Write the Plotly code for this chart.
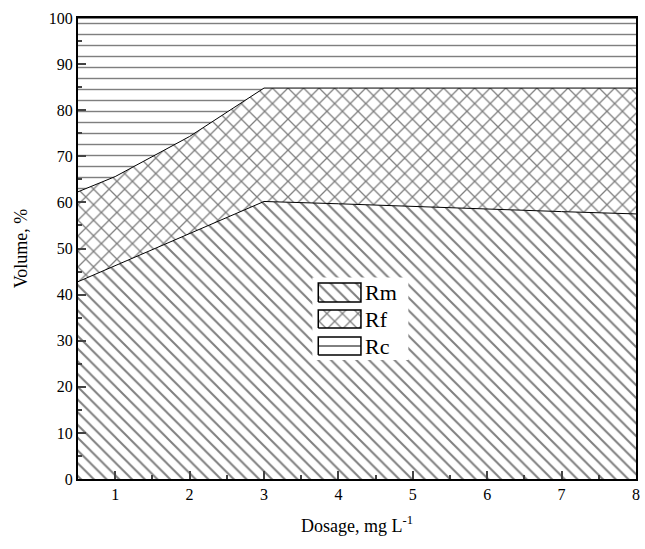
import plotly.graph_objects as go

dosage = [0.5, 1, 2, 3, 4, 5, 6, 7, 8]
rm = [42.8, 46.3, 53.2, 60.2, 59.7, 59.1, 58.6, 58.0, 57.5]
rf = [19.5, 19.3, 21.1, 24.6, 25.1, 25.7, 26.2, 26.8, 27.3]
rc = [37.7, 34.4, 25.7, 15.2, 15.2, 15.2, 15.2, 15.2, 15.2]

x_ticks = [1, 2, 3, 4, 5, 6, 7, 8]
y_ticks = [0, 10, 20, 30, 40, 50, 60, 70, 80, 90, 100]

names = ["Rm", "Rf", "Rc"]
series = [rm, rf, rc]
shapes = ["\\", "x", "-"]
sizes = [9, 11, 11]
solid = [0.22, 0.22, 0.13]

FONT = "Liberation Serif"

fig = go.Figure()
for n, s, sh, sz, so in zip(names, series, shapes, sizes, solid):
    fig.add_trace(go.Scatter(
        x=dosage, y=s, name=n, mode="lines", stackgroup="one",
        line=dict(color="black", width=1),
        fillcolor="white", showlegend=False,
        fillpattern=dict(shape=sh, size=sz, solidity=so, fgcolor="black",
                         bgcolor="white", fillmode="overlay"),
    ))

# ---- hand-made legend on overlay axes spanning 0..1 over the plot area ----
leg_x0, leg_x1 = 0.4306, 0.5071
leg_rows = [(0.4252, 0.3839), (0.3666, 0.3275), (0.3080, 0.2690)]
bg = (0.420, 0.592, 0.258, 0.437)

fig.add_trace(go.Scatter(
    x=[bg[0], bg[1], bg[1], bg[0], bg[0]], y=[bg[2], bg[2], bg[3], bg[3], bg[2]],
    fill="toself", fillcolor="white", line=dict(width=0), mode="lines",
    xaxis="x2", yaxis="y2", showlegend=False, hoverinfo="skip"))

for (top, bot), n, sh, sz, so in zip(leg_rows, names, shapes, sizes, solid):
    box_x = [leg_x0, leg_x1, leg_x1, leg_x0, leg_x0]
    box_y = [bot, bot, top, top, bot]
    if sh == "-":
        fig.add_trace(go.Scatter(
            x=box_x, y=box_y, fill="toself", fillcolor="white",
            line=dict(color="black", width=1.5), mode="lines",
            xaxis="x2", yaxis="y2", showlegend=False, hoverinfo="skip"))
        mid = (top + bot) / 2
        fig.add_trace(go.Scatter(
            x=[leg_x0, leg_x1], y=[mid, mid], mode="lines",
            line=dict(color="black", width=1), xaxis="x2", yaxis="y2",
            showlegend=False, hoverinfo="skip"))
    else:
        fig.add_trace(go.Scatter(
            x=box_x, y=box_y, fill="toself", fillcolor="white",
            line=dict(color="black", width=1.5),
            fillpattern=dict(shape=sh, size=sz, solidity=so, fgcolor="black",
                             bgcolor="white", fillmode="overlay"),
            mode="lines", xaxis="x2", yaxis="y2", showlegend=False, hoverinfo="skip"))
    fig.add_annotation(x=leg_x1 + 0.003, y=(top + bot) / 2, xref="x2", yref="y2",
                       text=n, showarrow=False, xanchor="left", yanchor="middle",
                       font=dict(family=FONT, size=22, color="black"))

fig.update_layout(
    width=645, height=549,
    margin=dict(l=78, r=5, t=18, b=70),
    paper_bgcolor="white", plot_bgcolor="white",
    font=dict(family=FONT, size=16, color="black"),
    showlegend=False,
    xaxis=dict(range=[0.5, 8], tickvals=x_ticks, ticks="inside", ticklen=8,
               tickwidth=1.5, showline=True, linewidth=2, linecolor="black",
               mirror=True, showgrid=False, zeroline=False,
               ticklabeloverflow="allow",
               tickfont=dict(family=FONT, size=16, color="black"),
               minor=dict(dtick=0.5, tick0=0.5, ticks="inside", ticklen=4, tickwidth=1.5),
               title=dict(text="Dosage, mg L<sup>-1</sup>",
                          font=dict(family=FONT, size=18), standoff=17)),
    yaxis=dict(range=[0, 100], tickvals=y_ticks, ticks="inside", ticklen=8,
               tickwidth=1.5, showline=True, linewidth=2, linecolor="black",
               mirror=True, showgrid=False, zeroline=False,
               tickfont=dict(family=FONT, size=16, color="black"),
               minor=dict(dtick=5, ticks="inside", ticklen=4, tickwidth=1.5),
               title=dict(text="Volume, %", font=dict(family=FONT, size=18), standoff=16)),
    xaxis2=dict(range=[0, 1], overlaying="x", visible=False, fixedrange=True),
    yaxis2=dict(range=[0, 1], overlaying="y", visible=False, fixedrange=True),
)

fig.write_html("out.html", config={"displayModeBar": False},
               post_script="document.body.style.margin='0px';")
